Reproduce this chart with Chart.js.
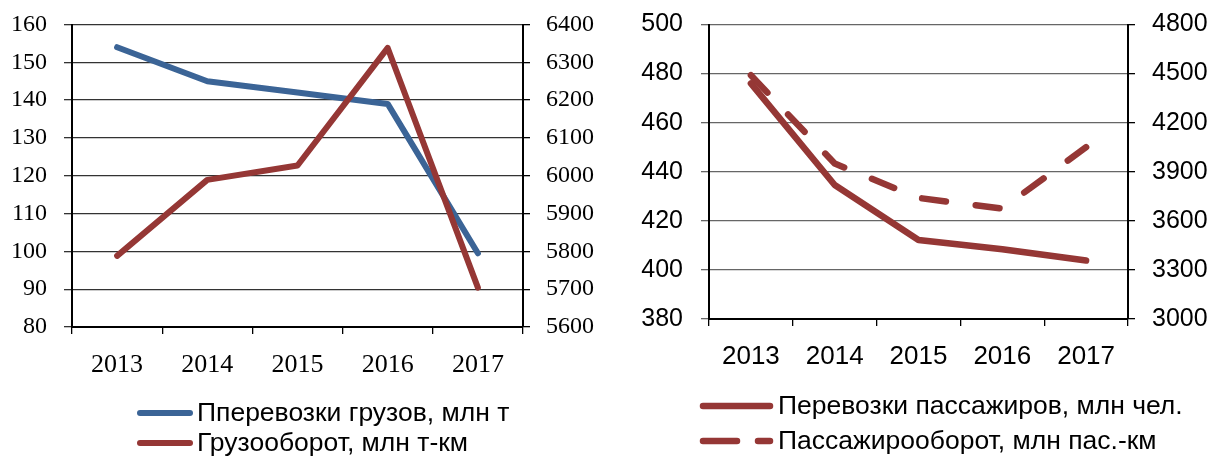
<!DOCTYPE html>
<html lang="ru">
<head>
<meta charset="utf-8">
<script src="https://cdn.jsdelivr.net/npm/chart.js@4.4.1/dist/chart.umd.min.js"></script>
<style>
  html, body { margin: 0; padding: 0; background: #fff; }
  #wrap { display: flex; width: 1212px; height: 457px; }
  canvas { display: block; }
</style>
</head>
<body>
<div id="wrap">
  <canvas id="freightChart" width="606" height="457"></canvas>
  <canvas id="passengerChart" width="606" height="457"></canvas>
</div>
<script>
// data
const years = ["2013", "2014", "2015", "2016", "2017"];

const cargoVolume = [154, 145, 142, 139, 99.5];          // млн т (left axis)
const freightTurnover = [5788, 5989, 6027, 6338, 5704];  // млн т-км (right axis)

const passengerTraffic = [476, 434.6, 412.2, 408.4, 403.8];   // млн чел. (left axis)
const passengerTurnover = [4490, 3950, 3740, 3675, 4050];     // млн пас.-км (right axis)

const BLUE = "#3B6496";
const RED = "#953735";

// legend drawn under the plot, one row per dataset
const legendLines = {
    id: "legendLines",
    afterDraw(chart, args, opts) {
        const ctx = chart.ctx;
        ctx.save();
        ctx.font = opts.font;
        ctx.textBaseline = "middle";
        chart.data.datasets.forEach((ds, i) => {
            const y = opts.y + i * opts.rowGap;
            ctx.beginPath();
            ctx.lineWidth = ds.borderWidth;
            ctx.strokeStyle = ds.borderColor;
            ctx.lineCap = "round";
            ctx.setLineDash(ds.borderDash ? opts.dash : []);
            ctx.moveTo(opts.x1, y);
            ctx.lineTo(opts.x2, y);
            ctx.stroke();
            ctx.setLineDash([]);
            ctx.fillStyle = "#000";
            ctx.fillText(ds.label, opts.textX, y + 1);
        });
        ctx.restore();
    }
};

const serif = size => ({ family: "'Liberation Serif', 'Times New Roman', serif", size: size });
const sans = size => ({ family: "'Liberation Sans', Arial, sans-serif", size: size });

// keep the y labels from pushing the plot area around
const noLabelPad = h => s => { s.paddingTop = 0; s.paddingBottom = 0; if (h) s.width = h; };

// **1 Freight**
new Chart(document.getElementById("freightChart").getContext("2d"), {
    type: "line",
    data: {
        labels: years,
        datasets: [{
            label: "Пперевозки грузов, млн т",
            data: cargoVolume,
            yAxisID: "y",
            borderColor: BLUE,
            borderWidth: 6,
            borderCapStyle: "round",
            borderJoinStyle: "round",
            pointRadius: 0,
            fill: false,
            order: 2
        }, {
            label: "Грузооборот, млн т-км",
            data: freightTurnover,
            yAxisID: "y1",
            borderColor: RED,
            borderWidth: 6,
            borderCapStyle: "round",
            borderJoinStyle: "round",
            pointRadius: 0,
            fill: false,
            order: 1
        }]
    },
    options: {
        responsive: false,
        animation: false,
        devicePixelRatio: 1,
        layout: { padding: { top: 24.5, left: 0, right: 0, bottom: 76 } },
        plugins: {
            legend: { display: false },
            tooltip: { enabled: false },
            legendLines: { x1: 140, x2: 190, textX: 197, y: 413, rowGap: 30, font: "26.5px 'Liberation Sans'" }
        },
        scales: {
            x: {
                offset: true,
                grid: { offset: true, drawOnChartArea: false, tickLength: 7, color: "#000", lineWidth: 1.3 },
                border: { color: "#000", width: 2 },
                ticks: { font: serif(26), color: "#000", padding: 16, maxRotation: 0, autoSkip: false },
                afterFit: s => { s.height = 54; }
            },
            y: {
                position: "left",
                min: 80,
                max: 160,
                ticks: { stepSize: 10, font: serif(24), color: "#000", padding: 17, callback: v => v },
                grid: { color: "#333", lineWidth: 1.3, tickLength: 8 },
                border: { color: "#000", width: 2 },
                afterFit: noLabelPad(72)
            },
            y1: {
                position: "right",
                min: 5600,
                max: 6400,
                ticks: { stepSize: 100, font: serif(24), color: "#000", padding: 16, callback: v => v },
                grid: { drawOnChartArea: false, color: "#000", lineWidth: 1.3, tickLength: 7 },
                border: { color: "#000", width: 2 },
                afterFit: noLabelPad(83)
            }
        }
    },
    plugins: [legendLines]
});

// **2 Passengers**
new Chart(document.getElementById("passengerChart").getContext("2d"), {
    type: "line",
    data: {
        labels: years,
        datasets: [{
            label: "Перевозки пассажиров, млн чел.",
            data: passengerTraffic,
            yAxisID: "y",
            borderColor: RED,
            borderWidth: 6.5,
            borderCapStyle: "round",
            borderJoinStyle: "round",
            pointRadius: 0,
            fill: false,
            order: 2
        }, {
            label: "Пассажирооборот, млн пас.-км",
            data: passengerTurnover,
            yAxisID: "y1",
            borderColor: RED,
            borderWidth: 6.5,
            borderDash: [24, 30],
            borderCapStyle: "round",
            borderJoinStyle: "round",
            pointRadius: 0,
            fill: false,
            order: 1
        }]
    },
    options: {
        responsive: false,
        animation: false,
        devicePixelRatio: 1,
        layout: { padding: { top: 24.5, left: 0, right: 0, bottom: 85 } },
        plugins: {
            legend: { display: false },
            tooltip: { enabled: false },
            legendLines: { x1: 97, x2: 164, textX: 172, y: 406, rowGap: 35, dash: [34, 21], font: "26.5px 'Liberation Sans'" }
        },
        scales: {
            x: {
                offset: true,
                grid: { offset: true, drawOnChartArea: false, tickLength: 7, color: "#000", lineWidth: 1.3 },
                border: { color: "#000", width: 2 },
                ticks: { font: sans(26), color: "#000", padding: 15, maxRotation: 0, autoSkip: false },
                afterFit: s => { s.height = 53; }
            },
            y: {
                position: "left",
                min: 380,
                max: 500,
                ticks: { stepSize: 20, font: sans(25), color: "#000", padding: 18, callback: v => v },
                grid: { color: "#666", lineWidth: 1.3, tickLength: 8 },
                border: { color: "#000", width: 2 },
                afterFit: noLabelPad(103)
            },
            y1: {
                position: "right",
                min: 3000,
                max: 4800,
                ticks: { stepSize: 300, font: sans(25), color: "#000", padding: 17, callback: v => v },
                grid: { drawOnChartArea: false, color: "#000", lineWidth: 1.3, tickLength: 7 },
                border: { color: "#000", width: 2 },
                afterFit: noLabelPad(84)
            }
        }
    },
    plugins: [legendLines]
});
</script>
</body>
</html>
